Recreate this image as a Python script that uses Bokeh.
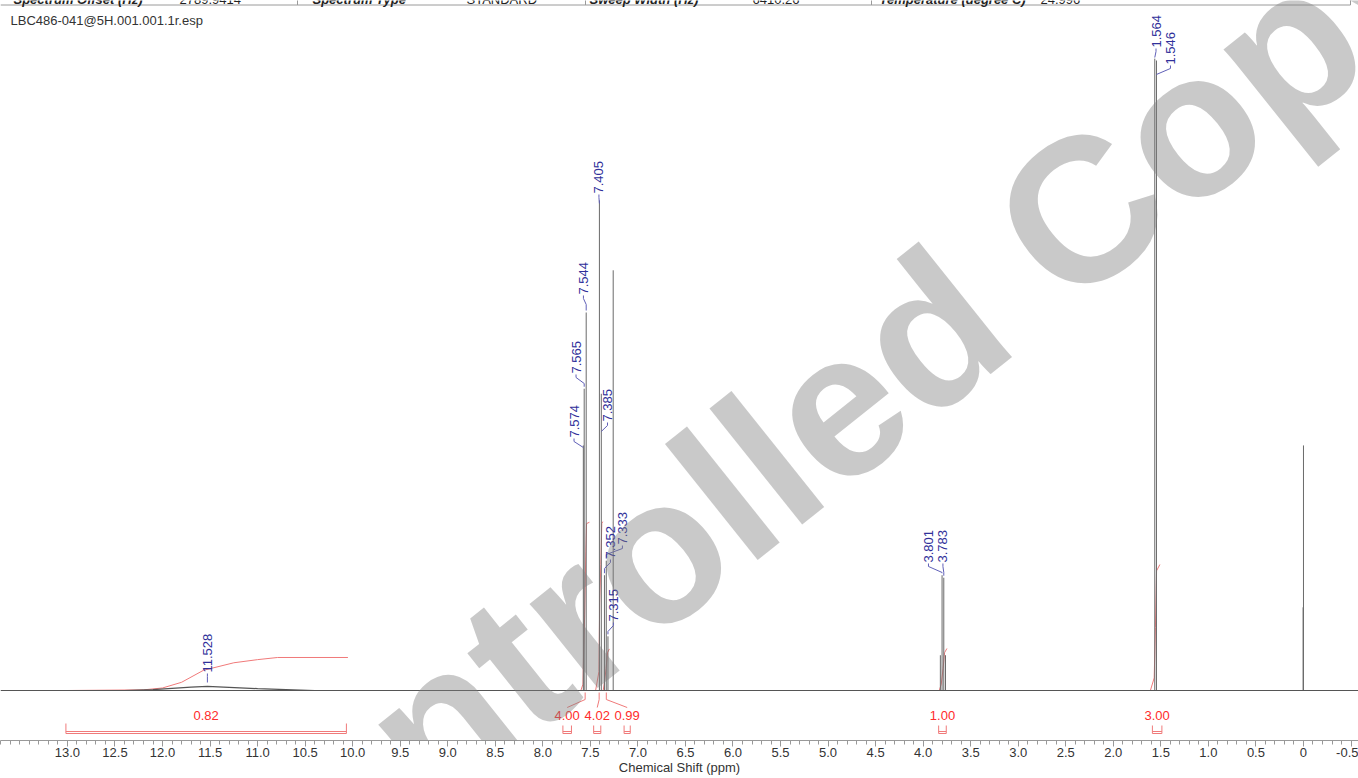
import numpy as np
from bokeh.plotting import figure
from bokeh.models import Range1d, Label, Span, FixedTicker
from bokeh.core.properties import value
from bokeh.embed import file_html
from bokeh.resources import INLINE

FONT = "Liberation Sans"
FILE_NAME = "LBC486-041@5H.001.001.1r.esp"
X_LABEL = "Chemical Shift (ppm)"
WATERMARK = "Uncontrolled Copy"
HEADER_TEXTS = ["Spectrum Offset (Hz)", "2789.9414", "Spectrum Type", "STANDARD",
                "Sweep Width (Hz)", "6410.26", "Temperature (degree C)", "24.996"]
HEADER_BOLD = [True, False, True, False, True, False, True, False]

# ---- spectrum lines (ppm, relative intensity; tallest ~100) ----
PEAK_PPM = [7.574, 7.565, 7.544, 7.405, 7.385, 7.352, 7.333, 7.315, 7.260,
            3.819, 3.801, 3.783, 3.765, 1.564, 1.546, 0.004, 0.000]
PEAK_HEIGHT = [38.9, 47.9, 60.0, 77.8, 47.1, 18.3, 20.6, 8.6, 66.7,
               5.6, 18.3, 17.9, 5.6, 100.3, 100.0, 13.2, 38.9]

# broad exchangeable hump (~11.5 ppm)
HUMP_PPM = [12.4, 12.1, 11.9, 11.7, 11.528, 11.3, 11.0, 10.7, 10.4]
HUMP_HEIGHT = [0.0, 0.15, 0.35, 0.55, 0.65, 0.5, 0.3, 0.15, 0.0]

# ---- peak labels ----
PEAK_LABELS = ["11.528", "7.574", "7.565", "7.544", "7.405", "7.385", "7.352",
               "7.333", "7.315", "3.801", "3.783", "1.564", "1.546"]
LABEL_PEAK_PPM = [11.528, 7.574, 7.565, 7.544, 7.405, 7.385, 7.352,
                  7.333, 7.315, 3.801, 3.783, 1.564, 1.546]
LABEL_PEAK_TOP = [0.95, 38.9, 47.9, 60.0, 77.8, 47.1, 18.3,
                  20.6, 8.6, 18.3, 17.9, 100.3, 100.0]
LABEL_X = [11.528, 7.672, 7.651, 7.573, 7.41, 7.320, 7.289,
           7.163, 7.258, 3.944, 3.792, 1.551, 1.399]
LABEL_Y = [2.86, 40.16, 50.32, 62.86, 78.89, 42.70, 20.95,
           23.17, 10.95, 20.32, 20.32, 102.06, 99.37]

# ---- integrals ----
INT_VALUES = ["0.82", "4.00", "4.02", "0.99", "1.00", "3.00"]
INT_FROM = [13.00, 7.60, 7.445, 7.365, 3.83, 1.61]
INT_TO = [10.05, 7.51, 7.370, 7.300, 3.75, 1.51]
INT_LABEL_X = [11.541, 7.744, 7.428, 7.113, 3.797, 1.539]
INT_LEADER = [False, True, True, True, False, False]

INT1_PPM = [13.0, 12.2, 12.0, 11.8, 11.57, 11.25, 11.0, 10.79, 10.05]
INT1_Y = [0.0, 0.1, 0.4, 1.3, 3.2, 4.4, 4.9, 5.24, 5.24]
INT2_PPM = [7.60, 7.578, 7.570, 7.560, 7.548, 7.540, 7.51]
INT2_Y = [0.0, 1.0, 7.0, 12.0, 22.0, 26.5, 26.7]
INT3_PPM = [7.445, 7.41, 7.402, 7.39, 7.38, 7.37]
INT3_Y = [0.0, 3.0, 14.0, 20.0, 26.5, 26.8]
INT4_PPM = [7.365, 7.35, 7.335, 7.32, 7.30]
INT4_Y = [0.0, 1.5, 3.5, 6.0, 6.6]
INT5_PPM = [3.83, 3.81, 3.79, 3.775, 3.75]
INT5_Y = [0.0, 1.0, 3.5, 6.0, 6.67]
INT6_PPM = [1.61, 1.57, 1.557, 1.545, 1.51]
INT6_Y = [0.0, 2.0, 10.0, 19.0, 20.0]

# ---- axis ticks ----
TICK_VALUES = [13.0, 12.5, 12.0, 11.5, 11.0, 10.5, 10.0, 9.5, 9.0, 8.5, 8.0,
               7.5, 7.0, 6.5, 6.0, 5.5, 5.0, 4.5, 4.0, 3.5, 3.0, 2.5, 2.0,
               1.5, 1.0, 0.5, 0.0, -0.5]
TICK_LABELS = ["13.0", "12.5", "12.0", "11.5", "11.0", "10.5", "10.0", "9.5",
               "9.0", "8.5", "8.0", "7.5", "7.0", "6.5", "6.0", "5.5", "5.0",
               "4.5", "4.0", "3.5", "3.0", "2.5", "2.0", "1.5", "1.0", "0.5",
               "0", "-0.5"]

# ---- layout / style ----
W, H = 1358, 778
PPM_PER_PX = 1 / 95.08
X0 = 13.704                     # ppm at left edge
Y_PER_PX = 1 / 6.3              # intensity units per pixel
BASE_PX = 690                   # baseline pixel row


def sx(px):
    return X0 - px * PPM_PER_PX


def sy(py):
    return (BASE_PX - py) * Y_PER_PX


PX = Y_PER_PX
BLUE = "#30309a"
BLUE_LINE = "#6060b8"
RED_TXT = "#ff2b2b"
RED_LINE = "#f07a7a"

p = figure(width=W, height=H, output_backend="svg", toolbar_location=None,
           x_range=Range1d(sx(0), sx(W)), y_range=Range1d(sy(740), sy(0)),
           y_axis_location=None, min_border_left=0, min_border_right=0,
           min_border_top=0, min_border_bottom=H - 740)
p.outline_line_color = None
p.grid.visible = False

# header table remnant at the very top
p.multi_line(xs=[[sx(0), sx(1350)], [sx(297), sx(297)], [sx(585), sx(585)],
                 [sx(871), sx(871)], [sx(1350), sx(1350)]],
             ys=[[sy(4.5), sy(4.5)]] + [[sy(-2), sy(4.5)]] * 4,
             line_color="#9a9a9a", line_width=1)
for hx, txt, bold in zip([13, 179, 312, 466, 589, 752, 879, 1040], HEADER_TEXTS, HEADER_BOLD):
    p.add_layout(Label(x=sx(hx), y=sy(-1.5), text=txt, text_font=FONT,
                       text_font_size="13px", text_color="#222222",
                       text_font_style="bold italic" if bold else "normal",
                       text_align="left", text_baseline="alphabetic"))

# integral curves (under spectrum)
p.multi_line(xs=[INT1_PPM, INT2_PPM, INT3_PPM, INT4_PPM, INT5_PPM, INT6_PPM],
             ys=[INT1_Y, INT2_Y, INT3_Y, INT4_Y, INT5_Y, INT6_Y],
             line_color=RED_LINE, line_width=1)

# baseline + spectrum
p.add_layout(Span(location=0, dimension="width", line_color="#555555", line_width=1))
p.line(HUMP_PPM, HUMP_HEIGHT, line_color="#555555", line_width=1.2)
p.segment(x0=PEAK_PPM, y0=[0] * len(PEAK_PPM), x1=PEAK_PPM, y1=PEAK_HEIGHT,
          line_color="#6a6a6a", line_width=1)

# peak label connectors
cxs, cys = [], []
for lx, ly, pk, top in zip(LABEL_X, LABEL_Y, LABEL_PEAK_PPM, LABEL_PEAK_TOP):
    y1 = ly - 4 * PX
    y2 = ly - 10 * PX
    end = top + 2 * PX
    if end > y2:
        end = y2
    cxs.append([lx, lx, pk, pk])
    cys.append([ly - 1 * PX, y1, y2, end])
p.multi_line(xs=cxs, ys=cys, line_color=BLUE_LINE, line_width=1)

p.text(x=LABEL_X, y=LABEL_Y, text=PEAK_LABELS, angle=np.pi / 2,
       text_align="left", text_baseline="middle", text_font=value(FONT),
       text_font_size="13px", text_color=BLUE)

# integral labels, brackets, leaders
INT_LABEL_Y = sy(714.5)
p.text(x=INT_LABEL_X, y=[INT_LABEL_Y] * len(INT_VALUES), text=INT_VALUES,
       text_align="center", text_baseline="middle", text_font=value(FONT),
       text_font_size="13px", text_color=RED_TXT)

bxs, bys = [], []
for i, (f, t, cx) in enumerate(zip(INT_FROM, INT_TO, INT_LABEL_X)):
    half = (f - t) / 2
    l, r = cx + half, cx - half
    top = sy(723 if i == 0 else 725)
    bot = sy(733)
    inner = sy(731)
    bxs.append([l, l, r, r]); bys.append([top, bot, bot, top])
    bxs.append([l, r]); bys.append([inner, inner])
    if INT_LEADER[i]:
        rc = (f + t) / 2
        bxs.append([rc, rc, cx]); bys.append([sy(692), sy(699), sy(707)])
p.multi_line(xs=bxs, ys=bys, line_color=RED_LINE, line_width=1)

# x axis
ax = p.xaxis[0]
ax.ticker = FixedTicker(ticks=TICK_VALUES,
                        minor_ticks=[round(13.7 - 0.1 * k, 1) for k in range(143)])
ax.major_label_overrides = {v: s for v, s in zip(TICK_VALUES, TICK_LABELS)}
ax.axis_line_color = "#999999"
ax.major_tick_line_color = "#999999"
ax.minor_tick_line_color = "#999999"
ax.major_tick_in = 0
ax.major_tick_out = 6
ax.minor_tick_in = 0
ax.minor_tick_out = 4
ax.major_label_standoff = 1
ax.major_label_text_font = FONT
ax.major_label_text_font_size = "13px"
ax.major_label_text_color = "#333333"
ax.axis_label = X_LABEL
ax.axis_label_standoff = 0
ax.axis_label_text_font = FONT
ax.axis_label_text_font_size = "13px"
ax.axis_label_text_font_style = "normal"
ax.axis_label_text_color = "#333333"

# texts
p.add_layout(Label(x=sx(10), y=sy(20), text=FILE_NAME, text_font=FONT,
                   text_font_size="13px", text_color="#333333",
                   text_align="left", text_baseline="middle"))
p.add_layout(Label(x=sx(706), y=sy(509), text=WATERMARK, text_font=FONT,
                   text_font_size="205px", text_font_style="bold",
                   text_color="#7f7f7f", text_alpha=0.42, angle=0.674,
                   text_align="center", text_baseline="middle"))

open("out.html", "w").write(file_html(p, INLINE))
